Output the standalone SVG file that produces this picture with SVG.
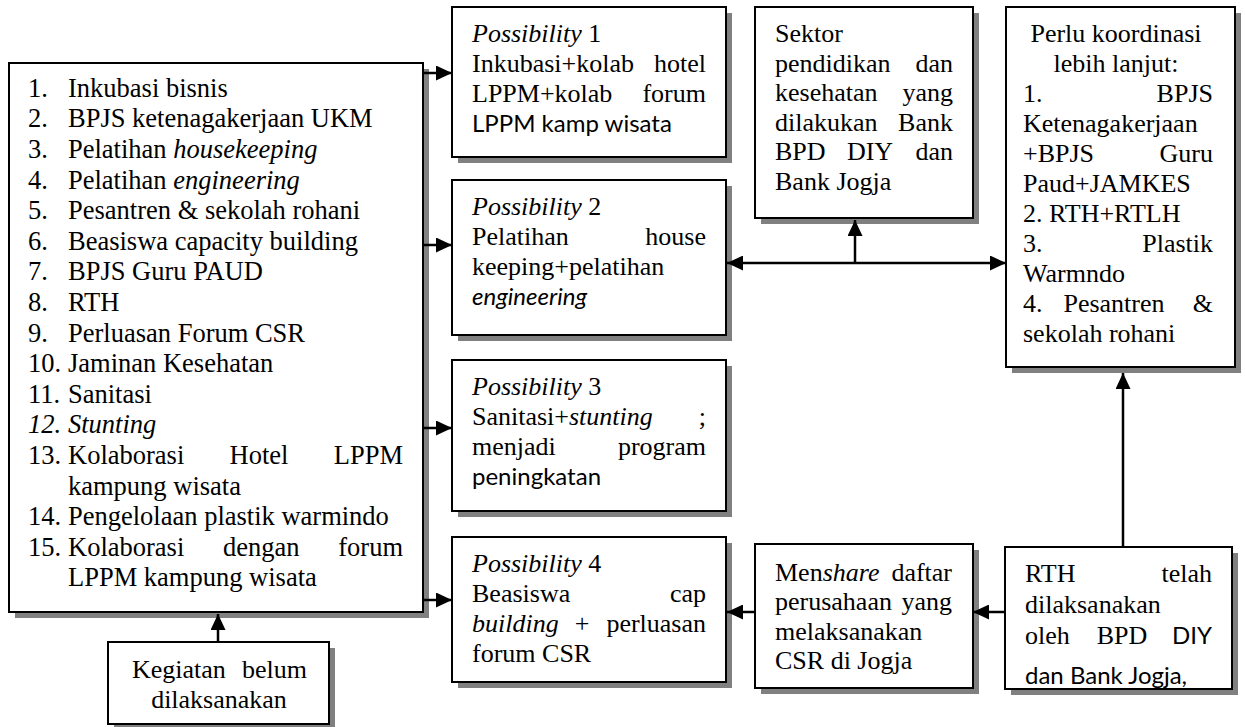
<svg xmlns="http://www.w3.org/2000/svg" width="1245" height="727" viewBox="0 0 1245 727">
<style>
.box{fill:#fff;stroke:#000;stroke-width:2}
.sh{fill:#808080}
text{font-family:"Liberation Serif","Times New Roman",serif;font-size:26px;fill:#000}
.L text{font-size:26.5px}
.s{font-family:Lato,"Liberation Sans",sans-serif;font-size:24px}
.i{font-style:italic}
.e{text-anchor:end}
.m{text-anchor:middle}
.c{fill:none;stroke:#000;stroke-width:2.5}
</style>
<defs>
<marker id="ah" markerUnits="userSpaceOnUse" markerWidth="17" markerHeight="15" refX="16" refY="7.5" orient="auto-start-reverse" viewBox="0 0 17 15">
<path d="M0,0 L16,7.5 L0,15 z" fill="#000"/>
</marker>
<clipPath id="rthclip"><rect x="1005" y="547" width="227" height="141"/></clipPath>
</defs>

<g id="left-list" class="L">
<rect class="sh" x="15" y="69" width="414" height="549"/>
<rect class="box" x="9" y="63" width="414" height="549"/>
<text x="28" y="96.7">1.</text><text x="68" y="96.7">Inkubasi bisnis</text>
<text x="28" y="127.3">2.</text><text x="68" y="127.3">BPJS ketenagakerjaan UKM</text>
<text x="28" y="157.9">3.</text><text x="68" y="157.9">Pelatihan <tspan class="i">housekeeping</tspan></text>
<text x="28" y="188.5">4.</text><text x="68" y="188.5">Pelatihan <tspan class="i">engineering</tspan></text>
<text x="28" y="219.1">5.</text><text x="68" y="219.1">Pesantren &amp; sekolah rohani</text>
<text x="28" y="249.7">6.</text><text x="68" y="249.7">Beasiswa capacity building</text>
<text x="28" y="280.3">7.</text><text x="68" y="280.3">BPJS Guru PAUD</text>
<text x="28" y="310.9">8.</text><text x="68" y="310.9">RTH</text>
<text x="28" y="341.5">9.</text><text x="68" y="341.5">Perluasan Forum CSR</text>
<text x="28" y="372.1">10.</text><text x="68" y="372.1">Jaminan Kesehatan</text>
<text x="28" y="402.7">11.</text><text x="68" y="402.7">Sanitasi</text>
<text class="i" x="28" y="433.3">12.</text><text class="i" x="68" y="433.3">Stunting</text>
<text x="28" y="463.9">13.</text><text x="68" y="463.9">Kolaborasi</text><text x="229.5" y="463.9">Hotel</text><text class="e" x="403" y="463.9">LPPM</text>
<text x="68" y="494.5">kampung wisata</text>
<text x="28" y="525.1">14.</text><text x="68" y="525.1">Pengelolaan plastik warmindo</text>
<text x="28" y="555.7">15.</text><text x="68" y="555.7">Kolaborasi</text><text x="223" y="555.7">dengan</text><text class="e" x="403" y="555.7">forum</text>
<text x="68" y="586.3">LPPM kampung wisata</text>
</g>

<g id="kegiatan">
<rect class="sh" x="114" y="648" width="221" height="82"/>
<rect class="box" x="108" y="642" width="221" height="82"/>
<text x="132" y="678">Kegiatan</text><text class="e" x="307" y="678">belum</text>
<text class="m" x="219" y="708">dilaksanakan</text>
</g>

<g id="possibility1">
<rect class="sh" x="458" y="13" width="274" height="150"/>
<rect class="box" x="452" y="7" width="274" height="150"/>
<text x="472" y="42"><tspan class="i">Possibility</tspan> 1</text>
<text x="472" y="72">Inkubasi+kolab</text><text class="e" x="706" y="72">hotel</text>
<text x="472" y="102">LPPM+kolab</text><text class="e" x="706" y="102">forum</text>
<text class="s" x="472" y="132">LPPM kamp wisata</text>
</g>

<g id="possibility2">
<rect class="sh" x="458" y="186" width="274" height="155"/>
<rect class="box" x="452" y="180" width="274" height="155"/>
<text x="472" y="215"><tspan class="i">Possibility</tspan> 2</text>
<text x="472" y="245">Pelatihan</text><text class="e" x="706" y="245">house</text>
<text x="472" y="275">keeping+pelatihan</text>
<text class="s i" x="472" y="305">engineering</text>
</g>

<g id="possibility3">
<rect class="sh" x="458" y="366" width="274" height="151"/>
<rect class="box" x="452" y="360" width="274" height="151"/>
<text x="472" y="395"><tspan class="i">Possibility</tspan> 3</text>
<text x="472" y="425">Sanitasi+<tspan class="i">stunting</tspan></text><text class="e" x="706" y="425">;</text>
<text x="472" y="455">menjadi</text><text class="e" x="706" y="455">program</text>
<text class="s" x="472" y="485">peningkatan</text>
</g>

<g id="possibility4">
<rect class="sh" x="458" y="543" width="274" height="145"/>
<rect class="box" x="452" y="537" width="274" height="145"/>
<text x="472" y="572"><tspan class="i">Possibility</tspan> 4</text>
<text x="472" y="602">Beasiswa</text><text class="e" x="706" y="602">cap</text>
<text class="i" x="472" y="632">building</text><text class="m" x="582" y="632">+</text><text class="e" x="706" y="632">perluasan</text>
<text x="472" y="662">forum CSR</text>
</g>

<g id="sektor">
<rect class="sh" x="761" y="13" width="218" height="211"/>
<rect class="box" x="755" y="7" width="218" height="211"/>
<text x="775" y="42">Sektor</text>
<text x="775" y="71.5">pendidikan</text><text class="e" x="953" y="71.5">dan</text>
<text x="775" y="101">kesehatan</text><text class="e" x="953" y="101">yang</text>
<text x="775" y="130.5">dilakukan</text><text class="e" x="953" y="130.5">Bank</text>
<text x="775" y="160">BPD</text><text class="m" x="870" y="160">DIY</text><text class="e" x="953" y="160">dan</text>
<text x="775" y="189.5">Bank Jogja</text>
</g>

<g id="perlu-koordinasi">
<rect class="sh" x="1012" y="13" width="229" height="360"/>
<rect class="box" x="1006" y="7" width="229" height="360"/>
<text class="m" x="1116" y="42">Perlu koordinasi</text>
<text class="m" x="1116" y="72">lebih lanjut:</text>
<text x="1023" y="102">1.</text><text class="e" x="1213" y="102">BPJS</text>
<text x="1023" y="132">Ketenagakerjaan</text>
<text x="1023" y="162">+BPJS</text><text class="e" x="1213" y="162">Guru</text>
<text x="1023" y="192">Paud+JAMKES</text>
<text x="1023" y="222">2. RTH+RTLH</text>
<text x="1023" y="252">3.</text><text class="e" x="1213" y="252">Plastik</text>
<text x="1023" y="282">Warmndo</text>
<text x="1023" y="312">4.</text><text class="m" x="1114" y="312">Pesantren</text><text class="e" x="1213" y="312">&amp;</text>
<text x="1023" y="342">sekolah rohani</text>
</g>

<g id="menshare">
<rect class="sh" x="761" y="550" width="218" height="144"/>
<rect class="box" x="755" y="544" width="218" height="144"/>
<text x="775" y="581">Men<tspan class="i">share</tspan></text><text class="e" x="952" y="581">daftar</text>
<text x="775" y="610">perusahaan</text><text class="e" x="952" y="610">yang</text>
<text x="775" y="640">melaksanakan</text>
<text x="775" y="669">CSR di Jogja</text>
</g>

<g id="rth">
<rect class="sh" x="1011" y="553" width="227" height="142"/>
<rect class="box" x="1005" y="547" width="227" height="142"/>
<g clip-path="url(#rthclip)">
<text x="1025" y="582">RTH</text><text class="e" x="1212" y="582">telah</text>
<text x="1025" y="613">dilaksanakan</text>
<text x="1025" y="644">oleh</text><text class="m" x="1122" y="644">BPD</text><text class="s e" x="1212" y="644">DIY</text>
<text class="s" x="1025" y="684">dan Bank Jogja,</text>
</g>
</g>

<g id="connectors">
<path class="c" d="M423,73 H452" marker-end="url(#ah)"/>
<path class="c" d="M423,245 H452" marker-end="url(#ah)"/>
<path class="c" d="M423,428 H452" marker-end="url(#ah)"/>
<path class="c" d="M423,600 H452" marker-end="url(#ah)"/>
<path class="c" d="M218,642 V614" marker-end="url(#ah)"/>
<path class="c" d="M727,263 H1006" marker-start="url(#ah)" marker-end="url(#ah)"/>
<path class="c" d="M855,263 V220" marker-end="url(#ah)"/>
<path class="c" d="M1123,547 V373" marker-end="url(#ah)"/>
<path class="c" d="M1005,612 H973" marker-end="url(#ah)"/>
<path class="c" d="M755,612 H727" marker-end="url(#ah)"/>
</g>
</svg>
